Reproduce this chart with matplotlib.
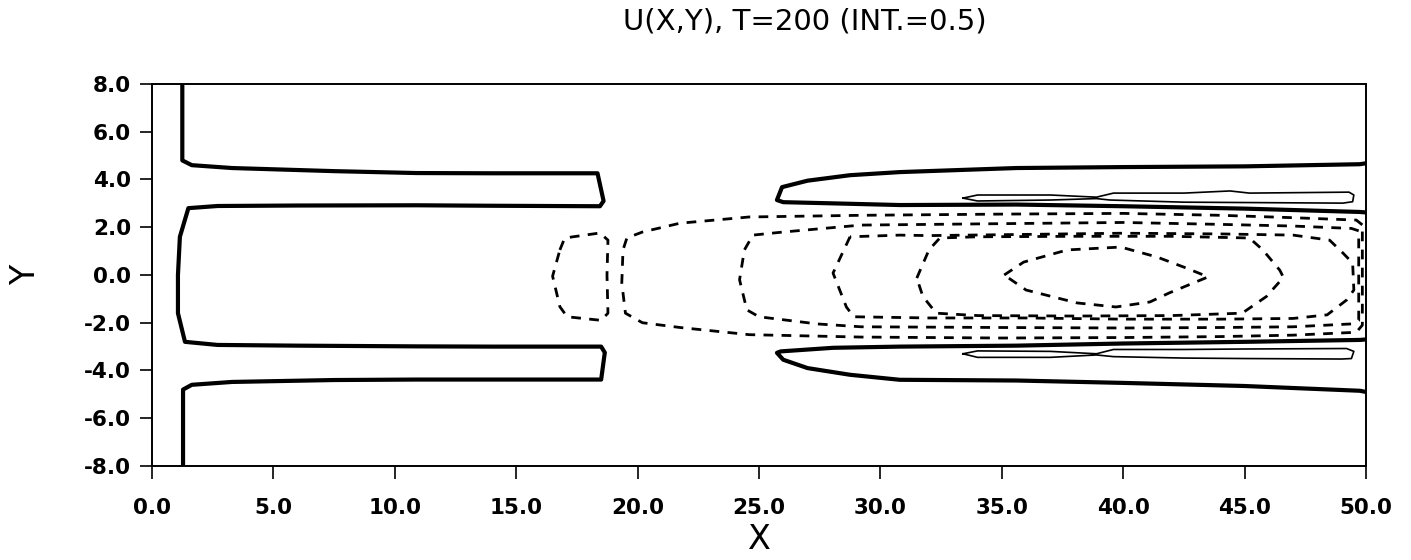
import matplotlib
matplotlib.use("Agg")
import matplotlib.pyplot as plt

# contour lines (x, y in data units)
# zero contour on the left side, one continuous thick line
c0_x = [1.25, 1.25, 1.64, 3.3, 7.5, 10.9, 14.0, 18.35, 18.6, 18.45, 14.0, 10.9, 6.0, 2.7, 1.5,
        1.15, 1.07, 1.07, 1.36, 2.7, 6.0, 10.9, 14.0, 18.5, 18.65, 18.5, 14.0, 10.9, 7.5, 3.3, 1.64, 1.28, 1.28]
c0_y = [8.0, 4.8, 4.6, 4.48, 4.35, 4.27, 4.26, 4.26, 3.1, 2.88, 2.9, 2.92, 2.91, 2.89, 2.8,
        1.6, 0.0, -1.6, -2.8, -2.93, -2.96, -2.99, -3.0, -3.0, -3.25, -4.38, -4.38, -4.38, -4.4, -4.48, -4.6, -4.8, -8.0]

# zero contours on the right side
c1_x = [50.0, 49.75, 45.0, 40.0, 35.6, 30.8, 28.75, 27.0, 25.95, 25.74, 26.0, 28.05, 30.8, 35.6, 40.0, 45.0, 49.75, 50.0]
c1_y = [4.68, 4.64, 4.55, 4.52, 4.48, 4.31, 4.18, 3.95, 3.68, 3.14, 3.05, 3.0, 2.93, 2.95, 2.88, 2.78, 2.64, 2.62]
c2_x = [50.0, 49.75, 45.0, 40.0, 35.6, 30.8, 28.05, 25.9, 25.74, 26.0, 27.0, 28.75, 30.8, 35.6, 40.0, 45.0, 49.75, 50.0]
c2_y = [-2.7, -2.72, -2.8, -2.87, -2.96, -3.0, -3.05, -3.2, -3.26, -3.55, -3.9, -4.18, -4.39, -4.42, -4.52, -4.65, -4.85, -4.9]

# thin positive loops
c3_x = [33.4, 34.0, 37.0, 38.9, 39.6, 42.5, 44.4, 45.2, 49.3, 49.5, 49.45, 49.05, 42.5, 39.45, 38.9, 37.0, 34.0, 33.4]
c3_y = [3.22, 3.35, 3.35, 3.26, 3.43, 3.43, 3.52, 3.43, 3.47, 3.35, 3.07, 3.01, 3.05, 3.14, 3.2, 3.14, 3.1, 3.22]
c4_x = [33.4, 34.0, 37.0, 38.9, 39.6, 42.5, 45.0, 49.2, 49.5, 49.4, 49.0, 45.0, 42.5, 39.6, 38.9, 37.0, 34.0, 33.4]
c4_y = [-3.3, -3.18, -3.2, -3.3, -3.12, -3.12, -3.1, -3.08, -3.2, -3.5, -3.52, -3.5, -3.48, -3.42, -3.35, -3.45, -3.45, -3.3]

# negative (dashed) contours
d1_x = [16.8, 17.0, 18.45, 18.78, 18.74, 18.78, 18.5, 17.1, 16.8, 16.5, 16.8]
d1_y = [1.05, 1.55, 1.76, 1.46, 0.0, -1.6, -1.9, -1.75, -1.33, -0.05, 1.05]
d2_x = [49.85, 49.6, 47.0, 44.0, 40.0, 35.0, 29.2, 24.6, 21.75, 20.2, 19.56, 19.4, 19.35, 19.5, 20.2, 21.75,
        24.6, 29.2, 35.0, 40.0, 44.0, 47.0, 49.6, 49.85, 49.85]
d2_y = [2.1, 2.3, 2.4, 2.5, 2.58, 2.55, 2.5, 2.43, 2.17, 1.8, 1.55, 1.05, -0.33, -1.6, -2.0, -2.2,
        -2.5, -2.6, -2.64, -2.62, -2.58, -2.52, -2.4, -2.1, 2.1]
d3_x = [49.7, 49.4, 47.0, 44.0, 40.0, 35.0, 29.2, 26.0, 24.75, 24.4, 24.2, 24.5, 25.0, 27.4, 29.2,
        35.0, 40.0, 44.0, 47.0, 49.4, 49.7, 49.7]
d3_y = [1.85, 1.95, 2.05, 2.12, 2.2, 2.15, 2.09, 1.8, 1.67, 1.05, -0.2, -1.46, -1.75, -2.05, -2.17,
        -2.2, -2.22, -2.2, -2.17, -2.05, -1.9, 1.85]
d4_x = [28.75, 28.05, 28.6, 28.9, 32.0, 36.0, 40.0, 44.0, 47.0, 48.4, 49.2, 49.5, 49.45, 49.05, 48.5,
        47.0, 44.0, 40.0, 36.0, 32.0, 30.8, 28.75]
d4_y = [1.6, 0.08, -1.34, -1.75, -1.8, -1.8, -1.85, -1.85, -1.82, -1.67, -1.05, -0.63, 0.5, 0.92, 1.46,
        1.67, 1.72, 1.75, 1.7, 1.65, 1.67, 1.6]
d5_x = [31.5, 32.0, 32.45, 34.0, 38.0, 42.0, 45.2, 45.75, 46.45, 46.6, 45.9, 44.9, 42.0, 38.0, 34.0, 32.3, 31.75, 31.5]
d5_y = [-0.13, 1.05, 1.55, 1.6, 1.62, 1.62, 1.55, 1.05, 0.2, -0.1, -0.9, -1.6, -1.7, -1.72, -1.7, -1.6, -0.9, -0.13]
d6_x = [35.1, 35.9, 37.7, 39.9, 41.4, 42.6, 43.5, 41.9, 41.1, 39.7, 38.1, 36.0, 35.1]
d6_y = [0.0, 0.54, 1.05, 1.17, 0.75, 0.29, -0.08, -0.75, -1.13, -1.34, -1.17, -0.63, 0.0]

x_ticks = [0.0, 5.0, 10.0, 15.0, 20.0, 25.0, 30.0, 35.0, 40.0, 45.0, 50.0]
y_ticks = [-8.0, -6.0, -4.0, -2.0, 0.0, 2.0, 4.0, 6.0, 8.0]

fig = plt.figure(figsize=(14.11, 5.6), dpi=100)
ax = fig.add_axes([0.1077, 0.1679, 0.8604, 0.6821])

for xs, ys in [(c0_x, c0_y), (c1_x, c1_y), (c2_x, c2_y)]:
    ax.plot(xs, ys, color='black', lw=3.0, solid_joinstyle='round')
for xs, ys in [(c3_x, c3_y), (c4_x, c4_y)]:
    ax.plot(xs, ys, color='black', lw=1.2)
for xs, ys in [(d1_x, d1_y), (d2_x, d2_y), (d3_x, d3_y), (d4_x, d4_y), (d5_x, d5_y), (d6_x, d6_y)]:
    ax.plot(xs, ys, color='black', lw=2.0, linestyle=(0, (3.5, 3)))

ax.set_xlim(0, 50)
ax.set_ylim(-8, 8)
ax.set_xticks(x_ticks)
ax.set_yticks(y_ticks)
ax.set_xticklabels([f'{v:.1f}' for v in x_ticks])
ax.set_yticklabels([f'{v:.1f}' for v in y_ticks])
ax.tick_params(direction='out', length=9, width=1.2, labelsize=15.5)
ax.tick_params(axis='x', pad=14)
ax.tick_params(axis='y', pad=6)
for lab in ax.get_xticklabels() + ax.get_yticklabels():
    lab.set_fontweight('bold')
for s in ax.spines.values():
    s.set_linewidth(1.4)

ax.set_xlabel('X', fontsize=24, labelpad=4)
ax.set_ylabel('Y', fontsize=24, labelpad=30)
fig.text(0.5705, 0.962, 'U(X,Y), T=200 (INT.=0.5)', fontsize=21, ha='center', va='center')

fig.savefig('out.png', dpi=100)
